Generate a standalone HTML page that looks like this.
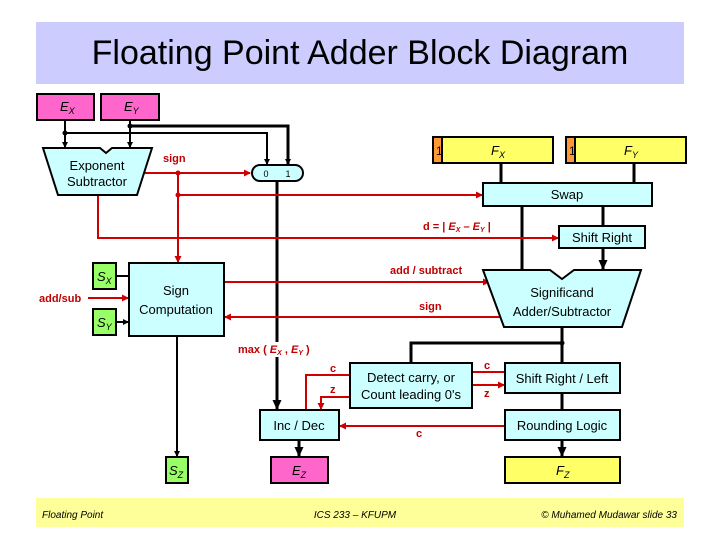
<!DOCTYPE html>
<html><head><meta charset="utf-8"><style>
body{margin:0;background:#fff}
svg{display:block}
text{font-family:"Liberation Sans",sans-serif}
.b{font-size:13px;fill:#000}
.r{font-size:11px;fill:#c00000;font-weight:bold}
.i{font-style:italic}
</style></head><body>
<svg width="720" height="540" viewBox="0 0 720 540">
<defs>
<marker id="ak" markerWidth="6" markerHeight="6" refX="5" refY="3" orient="auto" markerUnits="userSpaceOnUse"><path d="M0,0L6,3L0,6z" fill="#000"/></marker>
<marker id="akb" markerWidth="10" markerHeight="9" refX="9" refY="4.5" orient="auto" markerUnits="userSpaceOnUse"><path d="M0,0L10,4.5L0,9z" fill="#000"/></marker>
<marker id="ar" markerWidth="7" markerHeight="7" refX="6" refY="3.5" orient="auto" markerUnits="userSpaceOnUse"><path d="M0,0L7,3.5L0,7z" fill="#d00000"/></marker>
</defs>
<rect x="36" y="22" width="648" height="62" fill="#ccccff"/>
<text x="360" y="64" text-anchor="middle" font-size="34" fill="#000">Floating Point Adder Block Diagram</text>
<rect x="36" y="498" width="648" height="29" fill="#ffff99"/>
<text x="42" y="518" font-size="10" font-style="italic" font-family="Liberation Serif">Floating Point</text>
<text x="355" y="518" text-anchor="middle" font-size="10" font-style="italic" font-family="Liberation Serif">ICS 233 – KFUPM</text>
<text x="677" y="518" text-anchor="end" font-size="10" font-style="italic" font-family="Liberation Serif">© Muhamed Mudawar  slide 33</text>

<g stroke="#000" stroke-width="2" fill="none">
<path d="M65,120V147" marker-end="url(#ak)"/>
<path d="M130,120V147" marker-end="url(#ak)"/>
<path d="M65,133H267V164" marker-end="url(#ak)"/>
<path d="M130,126H288V164" stroke-width="3" marker-end="url(#ak)"/>
<path d="M277,181V342M277,357V409" stroke-width="3" marker-end="url(#akb)"/>
<path d="M177,336V456" marker-end="url(#ak)"/>
<path d="M116,276H128M116,322H128" marker-end="url(#ak)"/>
<path d="M501,163V182M634,163V182M522,206V269M603,206V225M603,248V269" stroke-width="3" marker-end="url(#akb)"/>
<path d="M562,327V362M562,343H411V362M562,393V409M562,440V456" stroke-width="3" marker-end="url(#akb)"/>
<path d="M299,440V456" stroke-width="3" marker-end="url(#akb)"/>
</g>
<g stroke="#d00000" stroke-width="2" fill="none">
<path d="M143,173H250" marker-end="url(#ar)"/>
<path d="M178,173V262" marker-end="url(#ar)"/>
<path d="M178,195H482" marker-end="url(#ar)"/>
<path d="M98,195V238H558" marker-end="url(#ar)"/>
<path d="M224,282H489" marker-end="url(#ar)"/>
<path d="M500,317H225" marker-end="url(#ar)"/>
<path d="M88,298H128" marker-end="url(#ar)"/>
<path d="M472,372H504M472,385H504" marker-end="url(#ar)"/>
<path d="M350,375H306V409M350,397H321V409" marker-end="url(#ar)"/>
<path d="M505,426H340" marker-end="url(#ar)"/>
</g>
<circle cx="178" cy="173" r="2.5" fill="#d00000"/><circle cx="178" cy="195" r="2.5" fill="#d00000"/>
<circle cx="65" cy="133" r="2.5"/><circle cx="130" cy="126" r="2.5"/><circle cx="562" cy="343" r="2.5"/>

<g stroke="#000" stroke-width="2">
<rect x="37" y="94" width="57" height="26" fill="#ff66cc"/>
<rect x="101" y="94" width="58" height="26" fill="#ff66cc"/>
<path d="M43,148H100L106,153L112,148H152L137,195H58Z" fill="#ccffff"/>
<rect x="252" y="165" width="51" height="16" rx="8" fill="#ccffff"/>
<rect x="433" y="137" width="120" height="26" fill="#ffff66"/>
<rect x="433" y="137" width="9" height="26" fill="#ff9933"/>
<rect x="566" y="137" width="120" height="26" fill="#ffff66"/>
<rect x="566" y="137" width="9" height="26" fill="#ff9933"/>
<rect x="483" y="183" width="169" height="23" fill="#ccffff"/>
<rect x="559" y="226" width="86" height="22" fill="#ccffff"/>
<path d="M483,270H550L562,279L574,270H641L622,327H504Z" fill="#ccffff"/>
<rect x="129" y="263" width="95" height="73" fill="#ccffff"/>
<rect x="93" y="263" width="23" height="26" fill="#99ff66"/>
<rect x="93" y="309" width="23" height="26" fill="#99ff66"/>
<rect x="350" y="363" width="122" height="45" fill="#ccffff"/>
<rect x="505" y="363" width="115" height="30" fill="#ccffff"/>
<rect x="505" y="410" width="115" height="30" fill="#ccffff"/>
<rect x="260" y="410" width="79" height="30" fill="#ccffff"/>
<rect x="166" y="457" width="22" height="26" fill="#99ff66"/>
<rect x="271" y="457" width="57" height="26" fill="#ff66cc"/>
<rect x="505" y="457" width="115" height="26" fill="#ffff66"/>
</g>

<text x="60" y="111" class="b i">E<tspan font-size="9" dy="3">X</tspan></text>
<text x="124" y="111" class="b i">E<tspan font-size="9" dy="3">Y</tspan></text>
<text x="97" y="170" class="b" text-anchor="middle">Exponent</text>
<text x="97" y="186" class="b" text-anchor="middle">Subtractor</text>
<text x="266" y="177" font-size="9" text-anchor="middle">0</text>
<text x="288" y="177" font-size="9" text-anchor="middle">1</text>
<text x="436" y="155" font-size="12">1</text><text x="569" y="155" font-size="12">1</text>
<text x="491" y="155" class="b i">F<tspan font-size="9" dy="3">X</tspan></text>
<text x="624" y="155" class="b i">F<tspan font-size="9" dy="3">Y</tspan></text>
<text x="567" y="199" class="b" text-anchor="middle">Swap</text>
<text x="602" y="242" class="b" text-anchor="middle">Shift Right</text>
<text x="562" y="297" class="b" text-anchor="middle">Significand</text>
<text x="562" y="316" class="b" text-anchor="middle">Adder/Subtractor</text>
<text x="176" y="295" class="b" text-anchor="middle">Sign</text>
<text x="176" y="314" class="b" text-anchor="middle">Computation</text>
<text x="97" y="281" class="b i">S<tspan font-size="9" dy="3">X</tspan></text>
<text x="97" y="327" class="b i">S<tspan font-size="9" dy="3">Y</tspan></text>
<text x="411" y="382" class="b" text-anchor="middle">Detect carry, or</text>
<text x="411" y="399" class="b" text-anchor="middle">Count leading 0's</text>
<text x="562" y="383" class="b" text-anchor="middle">Shift Right / Left</text>
<text x="562" y="430" class="b" text-anchor="middle">Rounding Logic</text>
<text x="299" y="430" class="b" text-anchor="middle">Inc / Dec</text>
<text x="169" y="475" class="b i">S<tspan font-size="9" dy="3">Z</tspan></text>
<text x="292" y="475" class="b i">E<tspan font-size="9" dy="3">Z</tspan></text>
<text x="556" y="475" class="b i">F<tspan font-size="9" dy="3">Z</tspan></text>

<text x="163" y="162" class="r">sign</text>
<text x="423" y="230" class="r">d = | <tspan class="i">E<tspan font-size="7" dy="2">X</tspan></tspan><tspan dy="-2"> – </tspan><tspan class="i">E<tspan font-size="7" dy="2">Y</tspan></tspan><tspan dy="-2"> |</tspan></text>
<text x="390" y="274" class="r">add / subtract</text>
<text x="419" y="310" class="r">sign</text>
<text x="39" y="302" class="r">add/sub</text>
<text x="238" y="353" class="r">max ( <tspan class="i">E<tspan font-size="7" dy="2">X</tspan></tspan><tspan dy="-2"> , </tspan><tspan class="i">E<tspan font-size="7" dy="2">Y</tspan></tspan><tspan dy="-2"> )</tspan></text>
<text x="330" y="372" class="r">c</text><text x="330" y="393" class="r">z</text>
<text x="484" y="369" class="r">c</text><text x="484" y="397" class="r">z</text>
<text x="416" y="437" class="r">c</text>
</svg>
</body></html>
